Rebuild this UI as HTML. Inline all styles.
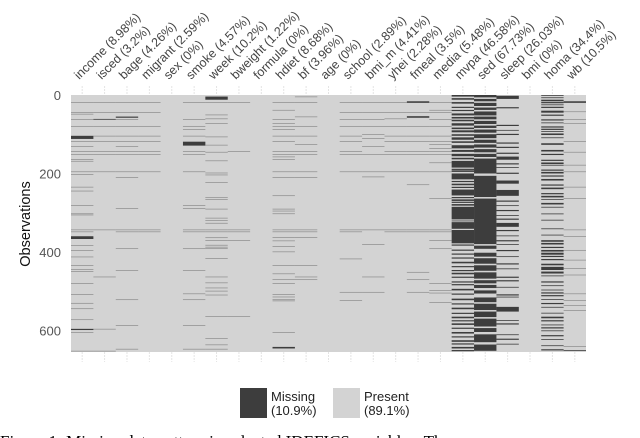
<!DOCTYPE html>
<html><head><meta charset="utf-8"><style>
body{margin:0;background:#fff;width:640px;height:438px;overflow:hidden}
svg{display:block}
text{font-family:"Liberation Sans",sans-serif}
</style></head><body>
<svg id="chart" width="640" height="438" viewBox="0 0 640 438" xmlns="http://www.w3.org/2000/svg"></svg>
<script>
const variables=["income","isced","bage","migrant","sex","smoke","week","bweight","formula","hdiet","bf","age","school","bmi_m","yhei","fmeal","media","mvpa","sed","sleep","bmi","homa","wb"];
const missingPct=["8.98","3.2","4.26","2.59","0","4.57","10.2","1.22","0","8.68","3.96","0","2.89","4.41","2.28","3.5","5.48","46.58","67.73","26.03","0","34.4","10.5"];
const nRows=655;
const yTicks=[0,200,400,600];
const legendLabels=["Missing","Present"];
const legendPct=["(10.9%)","(89.1%)"];
const miss_income=[18,44,48,62,79,[104,8],118,130,143,151,164,168,195,202,234,244,281,302,305,343,348,[360,7],383,396,412,434,444,449,480,508,530,544,572,[596,3],605,652];
const miss_isced=[18,44,[61,2],79,104,118,143,151,195,343,463,596,652];
const miss_bage=[18,44,[55,3],62,79,104,118,130,143,151,195,209,288,343,348,391,447,521,587,647];
const miss_migrant=[18,44,79,104,118,143,151,195,343,348];
const miss_sex=[];
const miss_smoke=[18,62,79,87,104,[119,10],143,151,195,281,288,343,348,391,447,506,521,587,647];
const miss_week=[[4,8],18,50,60,72,106,127,145,167,198,203,222,261,266,290,313,319,326,343,348,363,370,382,387,391,416,463,478,491,499,509,564,620,636,647];
const miss_bweight=[18,143,343,348,370,564];
const miss_formula=[];
const miss_hdiet=[18,38,62,72,79,87,104,118,143,151,157,164,195,209,256,290,295,302,343,348,362,371,385,399,434,455,470,480,508,514,521,524,605,[642,4]];
const miss_bf=[4,18,55,79,104,125,143,151,195,209,343,348,362,434,463,470];
const miss_age=[];
const miss_school=[18,44,62,79,104,118,143,151,195,343,348,417,502,523];
const miss_bmi_m=[18,44,62,79,100,110,130,151,195,208,343,380,463,502];
const miss_yhei=[18,44,60,79,104,118,143,151,195,343,348];
const miss_fmeal=[[16,4],44,[54,4],79,104,118,143,151,195,228,343,348,451,470,502];
const miss_media=[18,38,44,62,79,104,118,125,136,143,151,172,195,263,343,348,370,391,480,497,504,528];
const miss_mvpa=[[0,4],[8,4],[18,4],[30,3],[38,3],[47,5],[56,4],[63,4],[72,6],[83,4],[90,5],[100,4],[108,6],[118,4],[128,8],[140,5],[150,6],[160,4],[168,17],[188,3],[192,4],[200,15],[219,3],[226,4],[234,3],[241,15],[260,3],[266,4],[272,3],[278,4],[285,32],[320,2],[324,17],[344,34],[381,3],[394,3],[404,3],[414,3],[425,4],[436,3],[446,3],[453,4],[463,3],[475,3],[482,3],[494,4],[506,3],[519,4],[531,3],[542,4],[555,3],[565,4],[574,3],[582,4],[593,3],[604,4],[615,3],[625,4],[633,3],[642,4],[650,3]];
const miss_sed=[[0,6],[10,6],[20,8],[32,6],[42,10],[55,7],[66,8],[78,6],[88,8],[100,10],[114,8],[126,8],[138,8],[150,8],[162,38],[206,54],[264,116],[384,8],[402,10],[416,14],[434,14],[452,16],[472,8],[484,8],[498,8],[516,12],[532,16],[552,14],[570,20],[594,10],[610,20],[636,16]];
const miss_sleep=[[2,8],[31,3],[76,3],[89,2],[99,3],[121,3],[132,3],[147,3],[157,8],[174,3],[184,2],[198,3],[218,8],[242,15],[269,3],[281,2],[293,3],[306,2],[315,3],[326,10],[344,3],[358,2],[370,3],[380,2],[395,3],[411,2],[429,3],[442,2],[463,3],[472,3],[489,2],[508,3],[514,2],[540,12],[574,2],[582,3],[610,2],[621,3],[634,2]];
const miss_bmi=[];
const miss_homa=[[0,2],[6,2],[12,4],[18,3],[24,2],[30,3],[40,5],[50,3],[62,3],[70,2],[80,3],[86,3],[92,2],[98,4],[108,2],[123,4],[140,4],[150,3],[165,3],[172,4],[178,2],[190,3],[196,4],[205,3],[214,4],[228,3],[236,4],[250,3],[257,4],[265,2],[275,4],[285,2],[302,2],[318,2],[340,2],[356,2],[370,4],[377,4],[387,3],[395,4],[402,5],[410,3],[418,3],[430,4],[438,8],[450,5],[460,2],[475,3],[485,2],[496,2],[503,3],[510,3],[520,2],[530,3],[540,2],[555,2],[565,4],[574,3],[585,2],[592,3],[600,2],[612,3],[622,2],[638,2],[648,3]];
const miss_wb=[[16,4],42,62,72,118,145,178,195,234,263,343,360,395,420,441,458,506,523,536,548,640,[650,2]];
const missing=[miss_income,miss_isced,miss_bage,miss_migrant,miss_sex,miss_smoke,miss_week,miss_bweight,miss_formula,miss_hdiet,miss_bf,miss_age,miss_school,miss_bmi_m,miss_yhei,miss_fmeal,miss_media,miss_mvpa,miss_sed,miss_sleep,miss_bmi,miss_homa,miss_wb];

const svg=document.getElementById('chart');
const NS='http://www.w3.org/2000/svg';
const L=71,R=586,T=95,B=352;
const colW=(R-L)/variables.length;
const xCol=i=>L+i*colW;
const yRow=r=>T+r*(B-T)/nRows;
function mk(tag,attrs,parent){const e=document.createElementNS(NS,tag);for(const k in attrs)e.setAttribute(k,attrs[k]);(parent||svg).appendChild(e);return e;}

const bg=mk('rect',{x:L,y:T,width:R-L,height:B-T,fill:'#d3d3d3'});



variables.forEach((v,i)=>{
  const cx=xCol(i)+colW/2;
  [[86,95],[352,362]].forEach(([a,b])=>{
    const t=mk('line',{x1:cx,x2:cx,y1:a,y2:b,stroke:'#e4e4e4','stroke-width':1,'stroke-dasharray':'2,1'});
    
    
  });
  missing[i].forEach(m=>{
    const r=Array.isArray(m)?m[0]:m, len=Array.isArray(m)?m[1]:1;
    const h=yRow(r+len)-yRow(r);
    const rc=mk('rect',{x:xCol(i),y:yRow(r),width:colW,height:Math.max(h,0.6),fill:'#3d3d3d','fill-opacity':len===1?0.55:1});
    
    
  });
  const tx=mk('text',{x:0,y:0,'font-size':12.5,fill:'#444','text-anchor':'start',transform:`translate(${cx-3},${80}) rotate(-45)`});
  tx.textContent=v+' ('+missingPct[i]+'%)';
  
  
});

yTicks.forEach(t=>{
  const tx=mk('text',{x:61,y:yRow(t)+5,'font-size':13,fill:'#555','text-anchor':'end'});
  tx.textContent=t;
  
  
});
const yt=mk('text',{x:0,y:0,'font-size':14.5,fill:'#111','text-anchor':'middle',transform:'translate(30,224) rotate(-90)'});
yt.textContent='Observations';



const lg=[{x:240,fill:'#3d3d3d'},{x:333,fill:'#d3d3d3'}];
lg.forEach((g,i)=>{
  const b=mk('rect',{x:g.x,y:388,width:27,height:30,fill:g.fill});
  
  
  const t1=mk('text',{x:g.x+31,y:401,'font-size':13,fill:'#222'});
  t1.textContent=legendLabels[i];
  
  
  const t2=mk('text',{x:g.x+31,y:415,'font-size':13,fill:'#222'});
  t2.textContent=legendPct[i];
  
  
});
const cap=mk('text',{x:0,y:447,'font-size':17,fill:'#000'});
cap.setAttribute('style','font-family:"Liberation Serif",serif');
cap.textContent='Figure 1: Missing data pattern in selected IDEFICS variables. The rows are';


</script>
</body></html>
